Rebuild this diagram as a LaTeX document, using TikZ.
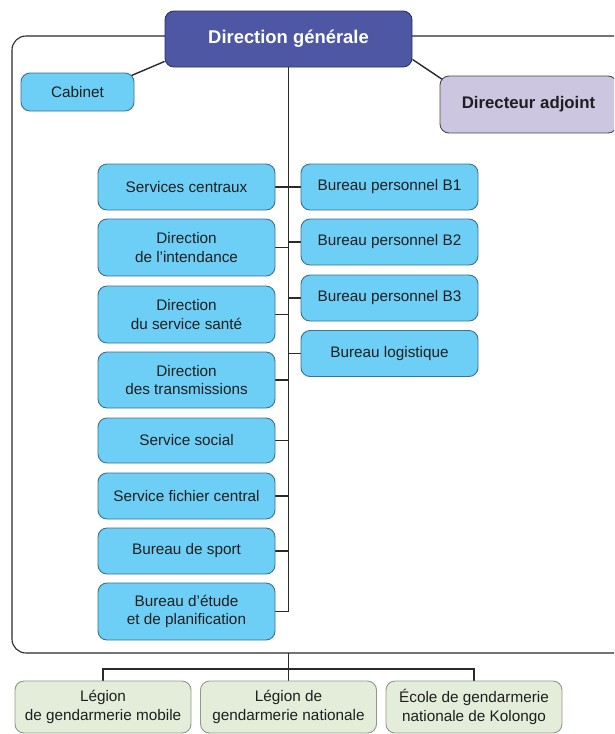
\documentclass[tikz,border=0pt]{standalone}
\usepackage{fontspec}
\setmainfont{Liberation Sans}
\usetikzlibrary{backgrounds}

\definecolor{chieffill}{HTML}{4D57A3}
\definecolor{chiefline}{HTML}{2C3266}
\definecolor{skyfill}{HTML}{6DCFF6}
\definecolor{skyline}{HTML}{3A7290}
\definecolor{lavfill}{HTML}{CCC6E0}
\definecolor{lavline}{HTML}{4A4A4A}
\definecolor{sagefill}{HTML}{E3EDD9}
\definecolor{sageline}{HTML}{8E9A88}
\definecolor{inkline}{HTML}{2A2A2A}

\tikzset{
  orgbox/.style={draw, rounded corners=9pt, line width=0.9pt, align=center,
    inner sep=2pt, text=black!88, font=\fontsize{15.3}{18.5}\selectfont},
  chief/.style={orgbox, fill=chieffill, draw=chiefline, text=white,
    font=\bfseries\fontsize{18.4}{22}\selectfont,
    minimum width=247pt, minimum height=56pt},
  cabbox/.style={orgbox, fill=skyfill, draw=skyline,
    minimum width=113pt, minimum height=38pt},
  adjbox/.style={orgbox, fill=lavfill, draw=lavline,
    font=\bfseries\fontsize{16.8}{20}\selectfont,
    minimum width=177pt, minimum height=57pt},
  servbox/.style={orgbox, fill=skyfill, draw=skyline, minimum width=177pt},
  unitbox/.style={orgbox, fill=sagefill, draw=sageline,
    minimum width=176pt, minimum height=52pt},
  frame/.style={draw=inkline, line width=1.1pt, rounded corners=14pt},
  link/.style={draw=inkline, line width=1.4pt}
}

\begin{document}
\begin{tikzpicture}[x=1pt, y=-1pt]
\clip (0,0) rectangle (614,734);

% Outer frame
\draw[frame] (12,36) rectangle (650,653);

% Direction and staff
\node[chief] (dg) at (288.5,39) {Direction générale};
\node[cabbox] (cab) at (77.5,92) {Cabinet};
\node[adjbox] (adj) at (528.5,104.5) {Directeur adjoint};

% Services, left column
\foreach \n/\y/\h/\t in {sc/187/46/{Services centraux},
    di/247.5/57/{Direction\\de l’intendance},
    dss/314.5/57/{Direction\\du service santé},
    dt/380/56/{Direction\\des transmissions},
    ss/440.5/45/{Service social},
    sfc/496/46/{Service fichier central},
    bs/551/46/{Bureau de sport},
    bep/611.5/57/{Bureau d’étude\\et de planification}}
  \node[servbox, minimum height=\h] (\n) at (186.5,\y) {\t};

% Bureaux, right column
\foreach \n/\y/\t in {b1/187/{Bureau personnel B1},
    b2/242/{Bureau personnel B2},
    b3/298/{Bureau personnel B3},
    bl/353.5/{Bureau logistique}}
  \node[servbox, minimum height=46] (\n) at (389.5,\y) {\t};

% Units below the frame
\foreach \n/\x/\t in {lgm/103/{Légion\\de gendarmerie mobile},
    lgn/288.5/{Légion de\\gendarmerie nationale},
    egn/474/{École de gendarmerie\\nationale de Kolongo}}
  \node[unitbox] (\n) at (\x,707) {\t};

\coordinate (framebot) at (288.5,653);
\coordinate (fork) at (288.5,669);

% Connectors
\begin{pgfonlayer}{background}
\draw[link] ([yshift=6pt]dg.south west) -- ([xshift=-3pt,yshift=-3pt]cab.north east);
\draw[link] ([yshift=8pt]dg.south east) -- ([xshift=3pt,yshift=-4pt]adj.north west);
\draw[link] (dg.south) -- (dg.south |- bep.east);
\foreach \n in {sc,di,dss,dt,ss,sfc,bs,bep}
  \draw[link] (\n.east) -- (\n.east -| dg.south);
\foreach \n in {b1,b2,b3,bl}
  \draw[link] (\n.west) -- (\n.west -| dg.south);
\draw[link] (framebot) -- (lgn.north);
\draw[link] (lgm.north) |- (fork) -| (egn.north);
\end{pgfonlayer}

\end{tikzpicture}
\end{document}
